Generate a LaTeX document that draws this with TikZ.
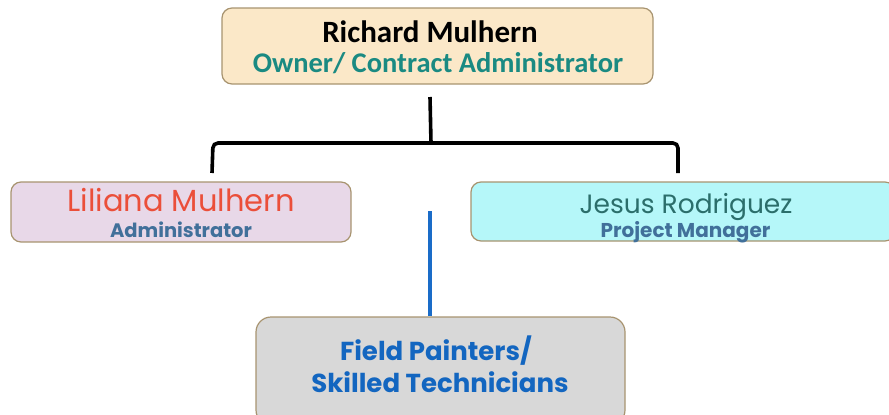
\documentclass[tikz,border=0pt]{standalone}
\usepackage{fontspec}
\setmainfont{Poppins}
\newfontfamily\calfont{Carlito}
\definecolor{topfill}{HTML}{FBE8C8}
\definecolor{teal1}{HTML}{1A8A82}
\definecolor{lavfill}{HTML}{E8D8E8}
\definecolor{redname}{HTML}{EB4F3A}
\definecolor{slate}{HTML}{41709A}
\definecolor{cyanfill}{HTML}{B5F7F9}
\definecolor{tealname}{HTML}{2B6E6B}
\definecolor{greyfill}{HTML}{D8D8D8}
\definecolor{bluetext}{HTML}{1366C0}
\definecolor{edge}{HTML}{A89470}
\definecolor{blueline}{HTML}{1A6CC8}
\tikzset{
  box/.style={draw=edge, line width=1.2pt, rounded corners=10pt, inner sep=0pt},
  txt/.style={anchor=base, inner sep=0pt},
  blackconn/.style={line width=3.6pt, black, rounded corners=5pt},
  blueconn/.style={line width=4pt, blueline},
}
\begin{document}
\begin{tikzpicture}[x=1pt,y=-1pt]
\useasboundingbox (0,0) rectangle (889,415);
\node[box, fill=topfill, minimum width=431pt, minimum height=76pt] (top) at (437.5,46) {};
\node[box, fill=lavfill, minimum width=340pt, minimum height=60pt] (left) at (181,212) {};
\node[box, fill=cyanfill, minimum width=424pt, minimum height=59pt] (right) at (683,211.5) {};
\node[box, fill=greyfill, rounded corners=15pt, minimum width=369pt, minimum height=108pt] (bottom) at (440.5,371) {};
% texts
\node[txt, font=\calfont\bfseries\fontsize{31}{33}\selectfont] (topname) at (430,42) {Richard Mulhern};
\node[txt, text=teal1, font=\calfont\bfseries\fontsize{28.5}{30}\selectfont] (toprole) at (438,72) {Owner/ Contract Administrator};
\node[txt, text=redname, font=\fontsize{30.5}{32}\selectfont] (leftname) at (181,211.5) {Liliana Mulhern};
\node[txt, text=slate, font=\bfseries\fontsize{19.5}{22}\selectfont] (leftrole) at (181,237) {Administrator};
\node[txt, text=tealname, font=\fontsize{26.5}{30}\selectfont] (rightname) at (686,213) {Jesus Rodriguez};
\node[txt, text=slate, font=\bfseries\fontsize{20}{22}\selectfont] (rightrole) at (685.5,237) {Project Manager};
\node[txt, text=bluetext, font=\bfseries\fontsize{26}{30}\selectfont] (botl1) at (436,360.5) {Field Painters/};
\node[txt, text=bluetext, font=\bfseries\fontsize{26}{30}\selectfont] (botl2) at (440,392.5) {Skilled Technicians};
% black connector
\coordinate (tstart) at (430,97);
\coordinate (lend) at (212,173);
\coordinate (rend) at (678,173);
\draw[blackconn] (tstart) -- (431,143);
\draw[blackconn] (lend) -- (213,143) -- (678,143) -- (rend);
% blue connector
\coordinate (bstart) at (430,211);
\draw[blueconn] (bstart) -- (bstart |- bottom.north);
\end{tikzpicture}
\end{document}
